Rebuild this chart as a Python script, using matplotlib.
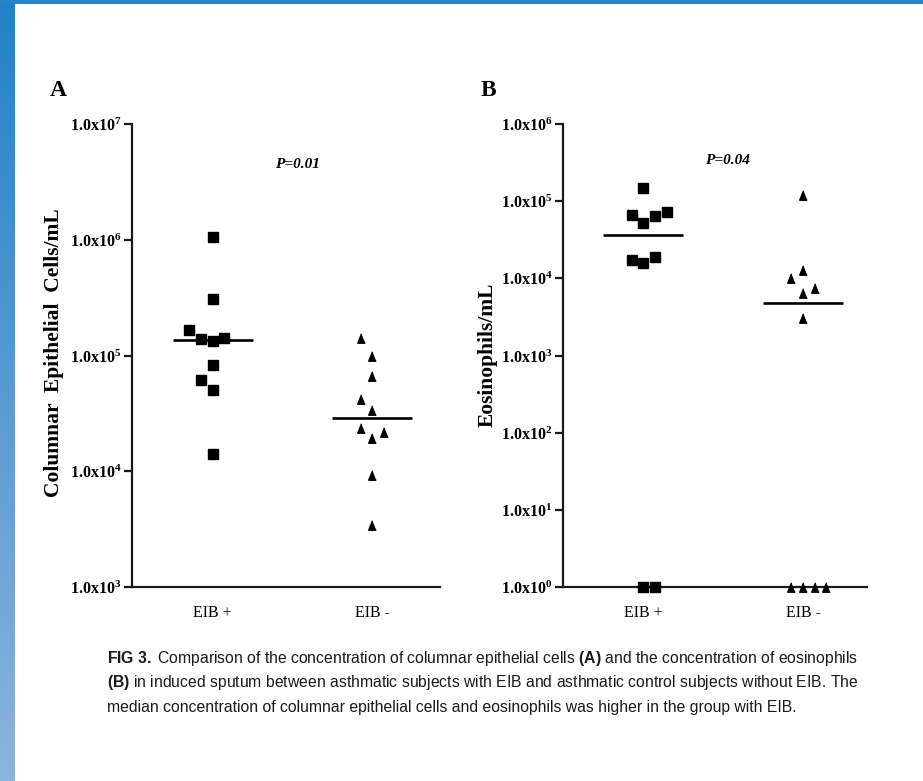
import numpy as np
import matplotlib
matplotlib.use('Agg')
import matplotlib.pyplot as plt
from matplotlib import font_manager as fm
from matplotlib.ticker import FixedLocator, FuncFormatter, NullLocator

# ---------------- data ----------------
groups = ['EIB +', 'EIB -']

# Panel A: columnar epithelial cells / mL
a_pos_vals = [1.06e6, 3.08e5, 1.66e5, 1.39e5, 1.34e5, 1.43e5, 8.2e4, 6.1e4, 5.0e4, 1.4e4]
a_neg_vals = [1.41e5, 9.96e4, 6.65e4, 4.19e4, 3.38e4, 2.35e4, 2.2e4, 1.95e4, 9.3e3, 3.44e3]
# Panel B: eosinophils / mL
b_pos_vals = [1.47e5, 6.6e4, 5.27e4, 6.43e4, 7.3e4, 1.73e4, 1.6e4, 1.91e4, 1.0, 1.0]
b_neg_vals = [1.2e5, 1.29e4, 1.0e4, 7.44e3, 6.4e3, 3.04e3, 1.0, 1.0, 1.0, 1.0]

a_ticks = [1e3, 1e4, 1e5, 1e6, 1e7]
b_ticks = [1e0, 1e1, 1e2, 1e3, 1e4, 1e5, 1e6]
p_labels = ['P=0.01', 'P=0.04']
y_labels = ['Columnar  Epithelial  Cells/mL', 'Eosinophils/mL']
panel_letters = ['A', 'B']

caption_lines = [
    r"$\bf{FIG\ 3.}$ Comparison of the concentration of columnar epithelial cells $\bf{(A)}$ and the concentration of eosinophils",
    r"$\bf{(B)}$ in induced sputum between asthmatic subjects with EIB and asthmatic control subjects without EIB. The",
    "median concentration of columnar epithelial cells and eosinophils was higher in the group with EIB.",
]

# scatter-column slot (horizontal jitter) of each point, layout only
a_pos_slots = [0, 0, -2, -1, 0, 1, 0, -1, 0, 0]
a_neg_slots = [-1, 0, 0, -1, 0, -1, 1, 0, 0, 0]
b_pos_slots = [0, -1, 0, 1, 2, -1, 0, 1, 0, 1]
b_neg_slots = [0, 0, -1, 1, 0, 0, -1, 0, 1, 2]

# ---------------- fonts ----------------
def has_font(name):
    try:
        fm.findfont(fm.FontProperties(family=name), fallback_to_default=False)
        return True
    except Exception:
        return False

cap_font = 'Liberation Sans Narrow' if has_font('Liberation Sans Narrow') else 'Liberation Sans'
serif = 'Liberation Serif'

plt.rcParams['mathtext.fontset'] = 'custom'
plt.rcParams['mathtext.rm'] = serif + ':bold'
plt.rcParams['mathtext.bf'] = cap_font + ':bold'
plt.rcParams['mathtext.it'] = serif + ':italic:bold'

W, H = 923, 781
fig = plt.figure(figsize=(W / 100, H / 100), dpi=100)
fig.patch.set_facecolor('white')

def fx(px):
    return px / W

def fy(py):
    return 1 - py / H

# ---------------- blue frame ----------------
bar = fig.add_axes([0, 0, fx(15), 1])
top_c = np.array([34, 129, 200]) / 255
bot_c = np.array([141, 180, 220]) / 255
t = np.linspace(0, 1, 256)[:, None]
grad = (top_c[None, :] * (1 - t) + bot_c[None, :] * t)[:, None, :]
bar.imshow(grad, aspect='auto', extent=[0, 1, 0, 1])
bar.axis('off')
topbar = fig.add_axes([0, fy(4), 1, 4 / H])
topbar.set_facecolor((40 / 255, 132 / 255, 201 / 255))
topbar.set_xticks([]); topbar.set_yticks([])
for s in topbar.spines.values():
    s.set_visible(False)

# ---------------- panels ----------------
step = 0.073
half = 0.25
sq_ms = 6.8
tri = [(0, 1), (-0.8, -1), (0.8, -1)]

def fmt(v, pos):
    return r'$\mathrm{1.0x10^{%d}}$' % int(round(np.log10(v)))

def make_panel(rect, xlim, ylim, ticks, pos_vals, neg_vals, pos_slots, neg_slots):
    ax = fig.add_axes(rect)
    ax.set_yscale('log')
    ax.set_ylim(*ylim)
    ax.set_xlim(*xlim)
    for s in ['top', 'right']:
        ax.spines[s].set_visible(False)
    for s in ['left', 'bottom']:
        ax.spines[s].set_linewidth(1.6)
        ax.spines[s].set_color('#1a1a1a')
    ax.yaxis.set_major_locator(FixedLocator(ticks))
    ax.yaxis.set_minor_locator(NullLocator())
    ax.yaxis.set_major_formatter(FuncFormatter(fmt))
    ax.tick_params(axis='y', direction='out', length=6, width=1.6, pad=1.5,
                   labelsize=11.5, color='#1a1a1a')
    ax.set_xticks([1, 2])
    ax.set_xticklabels(groups, fontfamily=serif, fontsize=11.5)
    ax.tick_params(axis='x', length=0, pad=13)
    xp = 1 + step * np.array(pos_slots)
    xn = 2 + step * np.array(neg_slots)
    ax.plot(xp, pos_vals, ls='none', marker='s', ms=sq_ms, color='black',
            clip_on=False, zorder=4)
    ax.plot(xn, neg_vals, ls='none', marker=tri, ms=sq_ms, color='black',
            clip_on=False, zorder=4)
    ax.hlines(np.median(pos_vals), 1 - half, 1 + half, color='black', lw=1.9, zorder=3)
    ax.hlines(np.median(neg_vals), 2 - half, 2 + half, color='black', lw=1.9, zorder=3)
    return ax

top_px, bot_px = 124, 587
axA = make_panel([fx(131.7), fy(bot_px), fx(440 - 131.7), (bot_px - top_px) / H],
                 (0.493, 2.424), (1e3, 1e7), a_ticks,
                 a_pos_vals, a_neg_vals, a_pos_slots, a_neg_slots)
axB = make_panel([fx(562.7), fy(bot_px), fx(867 - 562.7), (bot_px - top_px) / H],
                 (0.496, 2.40), (1e0, 1e6), b_ticks,
                 b_pos_vals, b_neg_vals, b_pos_slots, b_neg_slots)

# p-values
fig.text(fx(297), fy(164), p_labels[0], fontfamily=serif, fontstyle='italic',
         fontweight='bold', fontsize=11, ha='center', va='center')
fig.text(fx(727), fy(161), p_labels[1], fontfamily=serif, fontstyle='italic',
         fontweight='bold', fontsize=11, ha='center', va='center')

# y labels
fig.text(fx(54), fy(353), y_labels[0], rotation=90, fontfamily=serif,
         fontweight='bold', fontsize=15.5, ha='center', va='center')
fig.text(fx(488), fy(355), y_labels[1], rotation=90, fontfamily=serif,
         fontweight='bold', fontsize=15.5, ha='center', va='center')

# panel letters
fig.text(fx(58.5), fy(90), panel_letters[0], fontfamily=serif, fontweight='bold',
         fontsize=17, ha='center', va='center')
fig.text(fx(488), fy(90), panel_letters[1], fontfamily=serif, fontweight='bold',
         fontsize=17, ha='center', va='center')

# caption
baselines = [663, 687.5, 712]
cap_texts = []
for line, bl in zip(caption_lines, baselines):
    cap_texts.append(fig.text(fx(107), fy(bl), line, fontfamily=cap_font,
                              fontsize=11, ha='left', va='baseline', color='#1a1a1a'))
fig.canvas.draw()
r = fig.canvas.get_renderer()
w1 = cap_texts[0].get_window_extent(r).width
scale = 750.0 / w1
for tx in cap_texts:
    tx.set_fontsize(11 * scale)

fig.savefig('out.png', dpi=100, facecolor='white')
